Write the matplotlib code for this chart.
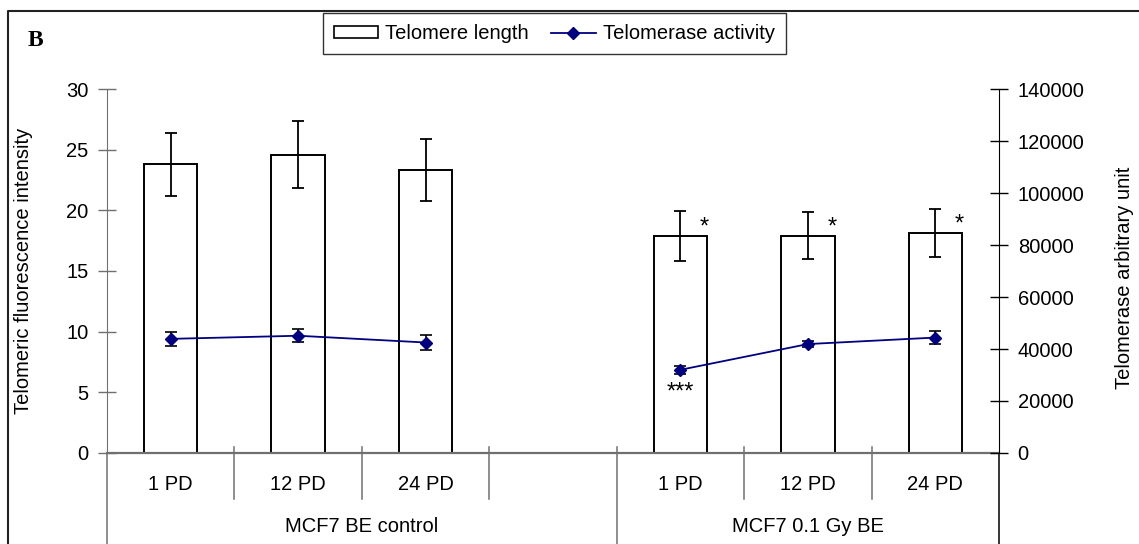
import numpy as np
import matplotlib
matplotlib.use("Agg")
import matplotlib.pyplot as plt
from matplotlib.patches import Patch
from matplotlib.lines import Line2D
from matplotlib.transforms import blended_transform_factory

FS = 14.5
plt.rcParams["font.family"] = ["Liberation Sans", "DejaVu Sans"]
plt.rcParams["font.size"] = FS

# Categories: two experimental groups with a spacer slot between them
categories = ["1 PD", "12 PD", "24 PD", "", "1 PD", "12 PD", "24 PD"]
groups = ["MCF7 BE control", "MCF7 0.1 Gy BE"]
group_spans = [(0, 3), (4, 6)]  # first and last category index of each group

telomere_length = [23.8, 24.6, 23.3, np.nan, 17.9, 17.9, 18.15]
telomere_length_err = [2.6, 2.8, 2.55, np.nan, 2.05, 1.95, 2.0]

telomerase_activity = [43900, 45100, 42500, np.nan, 32000, 41900, 44400]
telomerase_activity_err = [2800, 2500, 2700, np.nan, 1500, 1300, 2500]

length_stars = ["", "", "", "", "*", "*", "*"]
activity_stars = ["", "", "", "", "***", "", ""]

left_ticks = [0, 5, 10, 15, 20, 25, 30]
right_ticks = [0, 20000, 40000, 60000, 80000, 100000, 120000, 140000]

W, H = 1139, 544
fig = plt.figure(figsize=(W / 100, H / 100), dpi=100)
ax = fig.add_axes([107 / W, 91 / H, 892 / W, 364 / H])
ax2 = ax.twinx()

x = np.arange(len(categories))
tl = np.array(telomere_length, dtype=float)
tle = np.array(telomere_length_err, dtype=float)
ok = ~np.isnan(tl)

ax.bar(x[ok], tl[ok], width=0.42, facecolor="white", edgecolor="black",
       linewidth=1.4, zorder=2)
ax.errorbar(x[ok], tl[ok], yerr=tle[ok], fmt="none", ecolor="black",
            elinewidth=1.3, capsize=4.5, capthick=1.3, zorder=3)

for xi, v, e, s in zip(x, tl, tle, length_stars):
    if s:
        ax.text(xi + 0.19, v + 0.15, s, ha="center", va="baseline", fontsize=17)

ta = np.array(telomerase_activity, dtype=float)
tae = np.array(telomerase_activity_err, dtype=float)
ax2.errorbar(x, ta, yerr=tae, fmt="none", ecolor="black", elinewidth=1.2,
             capsize=4.5, capthick=1.2, zorder=3)
ax2.plot(x, ta, color="#000080", linewidth=1.3, marker="D", markersize=6.5,
         markerfacecolor="#000080", markeredgecolor="#000080", zorder=4)
for xi, v, s in zip(x, ta, activity_stars):
    if s:
        ax2.text(xi, 21000, s, ha="center", va="baseline", fontsize=17)

ax.set_xlim(-0.5, len(categories) - 0.5)
ax.set_ylim(0, 30)
ax2.set_ylim(0, 140000)
ax.set_yticks(left_ticks)
ax2.set_yticks(right_ticks)
ax.set_xticks([])

axis_grey = "#707070"
for sp in ["top", "right"]:
    ax.spines[sp].set_visible(False)
ax.spines["left"].set_color(axis_grey)
ax.spines["bottom"].set_color(axis_grey)
ax.spines["bottom"].set_linewidth(1.6)
for sp in ["top", "left", "bottom"]:
    ax2.spines[sp].set_visible(False)
ax2.spines["right"].set_color("black")

ax.tick_params(axis="y", direction="inout", length=13, width=1, color=axis_grey,
               pad=7, labelsize=FS)
ax2.tick_params(axis="y", direction="inout", length=13, width=1, color="black",
                pad=7, labelsize=FS)

# multi-level category axis below the plot
px = 1 / 364.0
tr = blended_transform_factory(ax.transData, ax.transAxes)
short_bounds = [0.5, 1.5, 2.5, 4.5, 5.5]
for b in short_bounds:
    ax.add_line(Line2D([b, b], [6 * px, -46 * px], transform=tr, color=axis_grey,
                       linewidth=1.1, clip_on=False))
long_bounds = [(-0.5, axis_grey), (3.5, axis_grey), (6.5, "black")]
for b, c in long_bounds:
    ax.add_line(Line2D([b, b], [6 * px if b == 3.5 else 0, -95 * px], transform=tr,
                       color=c, linewidth=1.1, clip_on=False))
for xi, lab in zip(x, categories):
    if lab:
        ax.text(xi, -32 * px, lab, transform=tr, ha="center", va="center",
                fontsize=FS)
for (a, b), g in zip(group_spans, groups):
    ax.text((a + b) / 2.0, -74 * px, g, transform=tr, ha="center", va="center",
            fontsize=FS)

# axis titles
fig.text(24 / W, 1 - 271 / H, "Telomeric fluorescence intensity", rotation=90,
         ha="center", va="center", fontsize=FS)
fig.text(1124 / W, 1 - 278 / H, "Telomerase arbitrary unit", rotation=90,
         ha="center", va="center", fontsize=FS)

# panel letter
fig.text(28 / W, 1 - 40 / H, "B", fontfamily="Liberation Serif", fontweight="bold",
         fontsize=17, ha="left", va="center")

# outer frame (top and left edges)
fig.add_artist(Line2D([8 / W, 8 / W, 1.0], [0.0, 1 - 11 / H, 1 - 11 / H],
                      transform=fig.transFigure, color="#222222", linewidth=1.5))

handles = [Patch(facecolor="white", edgecolor="black", linewidth=1.2),
           Line2D([], [], color="#000080", marker="D", markersize=6.5,
                  linewidth=1.3)]
leg = fig.legend(handles, ["Telomere length", "Telomerase activity"], ncol=2,
                 loc="upper left", bbox_to_anchor=(323 / W, 1 - 13 / H),
                 frameon=True, fancybox=False, framealpha=1, edgecolor="#333333",
                 fontsize=FS, handlelength=2.2, handleheight=0.5,
                 handletextpad=0.35, columnspacing=1.1, borderpad=0.55,
                 borderaxespad=0)
leg.get_frame().set_linewidth(1.0)

fig.savefig("out.png", dpi=100)
